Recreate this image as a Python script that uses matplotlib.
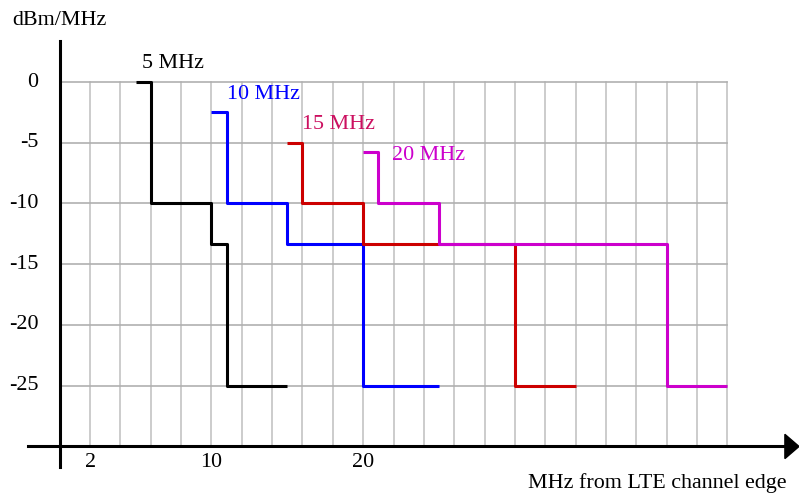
import matplotlib.pyplot as plt

plt.rcParams["font.family"] = ["Liberation Serif", "DejaVu Serif"]

# emission mask steps: (x edges, levels)
x_5 = [5, 6, 10, 11, 15]
y_5 = [0, -10, -13.3, -25]
x_10 = [10, 11, 15, 20, 25]
y_10 = [-2.5, -10, -13.3, -25]
x_15 = [15, 16, 20, 30, 34]
y_15 = [-5, -10, -13.3, -25]
x_20 = [20, 21, 25, 40, 44]
y_20 = [-5.8, -10, -13.3, -25]

series = [
    (x_5, y_5, "black", "5 MHz", "black", (5.4, 1.15)),
    (x_10, y_10, "#0000ff", "10 MHz", "#0000ff", (11.0, -1.4)),
    (x_15, y_15, "#cc0000", "15 MHz", "#cc1060", (16.0, -3.9)),
    (x_20, y_20, "#cc00cc", "20 MHz", "#cc00cc", (21.9, -6.4)),
]

x_ticks = [2, 10, 20]
y_ticks = [0, -5, -10, -15, -20, -25]

FS = 15.8


def step_path(xs, ys):
    px, py = [], []
    for i, y in enumerate(ys):
        px += [xs[i], xs[i + 1]]
        py += [y, y]
    return px, py


fig = plt.figure(figsize=(7.99, 4.97), dpi=100)
ax = fig.add_axes([0, 0, 1, 1])
ax.axis("off")
ax.set_xlim(-3.94, 48.73)
ax.set_ylim(-34.16, 6.75)

# grid
for gx in range(2, 45, 2):
    ax.plot([gx, gx], [0, -30], color="#c4c4c4", lw=1.2, zorder=1)
for gy in y_ticks:
    ax.plot([0, 44], [gy, gy], color="#b0b0b0", lw=1.2, zorder=1)

# axes
ax.plot([0, 0], [3.4, -31.7], color="black", lw=2.2, zorder=3)
ax.plot([-2.1, 48.0], [-30, -30], color="black", lw=2.2, zorder=3)
ax.fill([47.8, 48.73, 47.8], [-29.0, -30, -31.0], color="black", zorder=3)

for xs, ys, c, label, lc, pos in series:
    px, py = step_path(xs, ys)
    ax.plot(px, py, color=c, lw=2.2, zorder=4, solid_capstyle="butt")
    ax.text(pos[0], pos[1], label, color=lc, fontsize=FS, ha="left",
            va="baseline", zorder=5)

for t in x_ticks:
    ax.text(t, -31.7, str(t), fontsize=FS, ha="center", va="baseline")
for t in y_ticks:
    ax.text(-1.4, t, str(t), fontsize=FS, ha="right", va="center")

ax.text(-3.1, 4.7, "dBm/MHz", fontsize=FS, ha="left", va="baseline")
ax.text(47.9, -33.4, "MHz from LTE channel edge", fontsize=FS, ha="right",
        va="baseline")

fig.savefig("out.png", dpi=100)
